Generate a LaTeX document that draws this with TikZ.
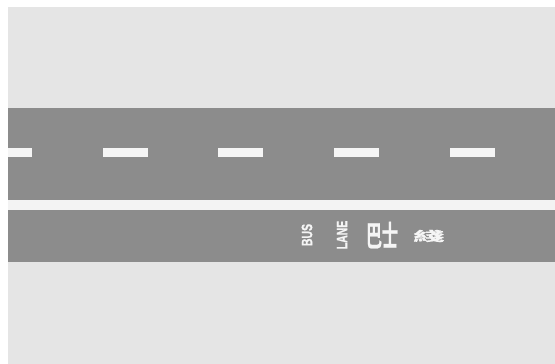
\documentclass[tikz,border=0pt]{standalone}
\usepackage{fontspec}
\setmainfont{Liberation Sans}
\newfontfamily\roadfont[FakeBold=1.2]{Liberation Sans Bold}
\newfontfamily\cjkfont[FakeBold=0.8]{Noto Sans CJK TC Bold}
\definecolor{paper}{HTML}{E5E5E5}
\definecolor{asphalt}{HTML}{8C8C8C}
\definecolor{gapwhite}{HTML}{F3F3F3}
\definecolor{paint}{HTML}{F5F5F5}
\tikzset{
  road/.style={fill=asphalt, draw=none},
  dashmark/.style={fill=paint, draw=none},
  roadword/.style={text=paint, inner sep=0pt, font=\roadfont\fontsize{15}{15}\selectfont, rotate=90, xscale=0.7},
  cjkword/.style={text=paint, inner sep=0pt},
}
\begin{document}
\begin{tikzpicture}[x=1pt,y=-1pt]
\useasboundingbox (0,0) rectangle (555,364);
\fill[white] (0,0) rectangle (555,364);
\fill[paper] (8,7) rectangle (555,364);
% upper band
\fill[road] (8,108) rectangle (555,200);
% white gap
\fill[gapwhite] (8,200) rectangle (555,210);
% lower band (bus lane)
\fill[road] (8,210) rectangle (555,262);
% lane dashes
\foreach \xa/\xb in {8/32, 103/148, 218/263, 334/379, 450/495}
  \fill[dashmark] (\xa,148) rectangle (\xb,157);
% markings
\node[roadword] (bus) at (307,235) {BUS};
\node[roadword] (lane) at (342,235) {LANE};
\node[cjkword, font=\cjkfont\fontsize{29}{29}\selectfont, xscale=0.55] (bashi) at (382,235) {巴士};
\node[cjkword, font=\cjkfont\fontsize{13}{13}\selectfont, xscale=2.4] (xian) at (429,236) {綫};
\end{tikzpicture}
\end{document}
